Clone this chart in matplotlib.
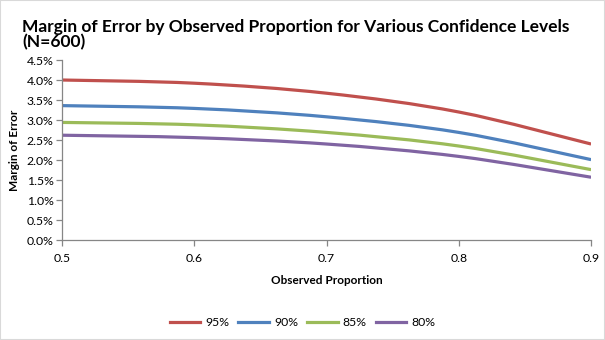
import matplotlib
matplotlib.use("Agg")
import matplotlib.pyplot as plt
from matplotlib.path import Path
from matplotlib.patches import PathPatch, Rectangle
from matplotlib.lines import Line2D
from matplotlib.ticker import PercentFormatter

proportion = [0.5, 0.6, 0.7, 0.8, 0.9]
moe_95 = [4.00, 3.92, 3.67, 3.20, 2.40]
moe_90 = [3.36, 3.29, 3.08, 2.69, 2.01]
moe_85 = [2.94, 2.88, 2.69, 2.35, 1.76]
moe_80 = [2.62, 2.56, 2.40, 2.09, 1.57]
labels = ["95%", "90%", "85%", "80%"]
colors = ["#C0504D", "#4F81BD", "#9BBB59", "#8064A2"]

plt.rcParams["font.family"] = ["Lato", "DejaVu Sans"]


def smooth_path(xs, ys, t=1 / 6):
    # Excel style smoothed line: cubic bezier through every point
    verts = [(xs[0], ys[0])]
    codes = [Path.MOVETO]
    n = len(xs)
    for i in range(n - 1):
        x0, y0 = (xs[i - 1], ys[i - 1]) if i > 0 else (xs[i], ys[i])
        x3, y3 = (xs[i + 2], ys[i + 2]) if i + 2 < n else (xs[i + 1], ys[i + 1])
        c1 = (xs[i] + (xs[i + 1] - x0) * t, ys[i] + (ys[i + 1] - y0) * t)
        c2 = (xs[i + 1] - (x3 - xs[i]) * t, ys[i + 1] - (y3 - ys[i]) * t)
        verts += [c1, c2, (xs[i + 1], ys[i + 1])]
        codes += [Path.CURVE4] * 3
    return Path(verts, codes)


fig = plt.figure(figsize=(6.05, 3.4), dpi=100)
ax = fig.add_axes([0.1025, 0.294, 0.8745, 0.5295])

series = [moe_95, moe_90, moe_85, moe_80]
for vals, c in zip(series, colors):
    ax.add_patch(PathPatch(smooth_path(proportion, vals), fc="none", ec=c,
                           lw=2.3, capstyle="butt"))

ax.set_xlim(0.5, 0.9)
ax.set_ylim(0, 4.5)
ax.set_xticks(proportion)
ax.set_xticklabels(["0.5", "0.6", "0.7", "0.8", "0.9"])
ax.set_yticks([i * 0.5 for i in range(10)])
ax.yaxis.set_major_formatter(PercentFormatter(decimals=1))
for s in ["top", "right"]:
    ax.spines[s].set_visible(False)
for s in ["left", "bottom"]:
    ax.spines[s].set_color("#868686")
    ax.spines[s].set_linewidth(0.9)
ax.tick_params(direction="out", length=4, width=0.9, color="#868686",
               labelsize=8.8, labelcolor="#000000", pad=2)
ax.tick_params(axis="x", pad=5)

ax.set_xlabel("Observed Proportion", fontsize=8.5, fontweight="bold", labelpad=8)
ax.set_ylabel("Margin of Error", fontsize=8.5, fontweight="bold", labelpad=5)

fig.text(22 / 605, 1 - 19 / 340,
         "Margin of Error by Observed Proportion for Various Confidence Levels\n(N=600)",
         fontsize=12.5, fontweight="bold", va="top", ha="left", linespacing=0.9)

handles = [Line2D([], [], color=c, lw=2.3) for c in colors]
fig.legend(handles, labels, loc="center", bbox_to_anchor=(0.5, 1 - 323 / 340),
           ncol=4, frameon=False, fontsize=8.8, handlelength=2.5,
           columnspacing=0.75, handletextpad=0.4)

fig.patches.append(Rectangle((0, 0), 1, 1, transform=fig.transFigure,
                             fill=False, ec="#D9D9D9", lw=1.5))

fig.savefig("out.png", dpi=100)
